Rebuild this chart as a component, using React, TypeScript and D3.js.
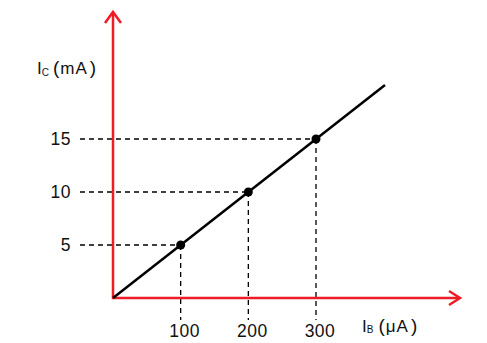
import React from "react";
import * as d3 from "d3";

const ibValues = [100, 200, 300];
const icValues = [5, 10, 15];
const xTicks = ["100", "200", "300"];
const yTicks = ["5", "10", "15"];
const lineEnd = [402, 20.1];

const W = 487;
const H = 343;

export default function App() {
  const x = d3.scaleLinear().domain([0, 300]).range([113, 316]);
  const y = d3.scaleLinear().domain([0, 15]).range([298, 139]);
  const x0 = x(0);
  const y0 = y(0);
  const red = "#ee1c24";
  const font = "'Liberation Sans', Arial, sans-serif";
  const line = d3.line<[number, number]>().x((d) => x(d[0])).y((d) => y(d[1]));
  const pts: [number, number][] = [[0, 0], [lineEnd[0], lineEnd[1]]];

  return (
    <svg width={W} height={H} style={{ position: "absolute", left: 0, top: 0, background: "#fff" }}>
      {/* dashed guides */}
      {ibValues.map((v, i) => (
        <g key={"g" + i}>
          <line x1={80} x2={x(v)} y1={y(icValues[i])} y2={y(icValues[i])} stroke="#000" strokeWidth={1.3} strokeDasharray="5,4" />
          <line x1={x(v)} x2={x(v)} y1={y(icValues[i])} y2={320} stroke="#000" strokeWidth={1.3} strokeDasharray="5,4" />
        </g>
      ))}
      {/* axes */}
      <line x1={x0} x2={x0} y1={y0 + 1} y2={12} stroke={red} strokeWidth={2.5} />
      <polyline points={`${x0 - 8},${23} ${x0},${12} ${x0 + 8},${23}`} fill="none" stroke={red} strokeWidth={2.5} />
      <line x1={x0 - 1} x2={460} y1={y0} y2={y0} stroke={red} strokeWidth={2.5} />
      <polyline points={`${449},${y0 - 7} ${460},${y0} ${449},${y0 + 7}`} fill="none" stroke={red} strokeWidth={2.5} />
      {/* main line */}
      <path d={line(pts) || ""} fill="none" stroke="#000" strokeWidth={2.5} />
      {ibValues.map((v, i) => (
        <circle key={"c" + i} cx={x(v)} cy={y(icValues[i])} r={4.5} fill="#000" />
      ))}
      {/* tick labels */}
      {yTicks.map((t, i) => (
        <text key={"yt" + i} x={71} y={y(icValues[i])} dy="0.36em" textAnchor="end" fontFamily={font} fontSize={17.5} letterSpacing={0.5} fill="#111">
          {t}
        </text>
      ))}
      {xTicks.map((t, i) => (
        <text key={"xt" + i} x={x(ibValues[i]) + 4} y={337} textAnchor="middle" fontFamily={font} fontSize={17.5} letterSpacing={0.5} fill="#111">
          {t}
        </text>
      ))}
      {/* axis titles */}
      <text x={37} y={74} fontFamily={font} fontSize={17} fill="#111">
        <tspan>I</tspan>
        <tspan fontSize={10} dy={2}>C</tspan>
        <tspan dy={-2} dx={4} fontSize={19}>(</tspan>
        <tspan dx={1} letterSpacing={1}>mA</tspan>
        <tspan dx={2} fontSize={19}>)</tspan>
      </text>
      <text x={362} y={332} fontFamily={font} fontSize={17} fill="#111">
        <tspan>I</tspan>
        <tspan fontSize={10} dy={1}>B</tspan>
        <tspan dy={-1} dx={5} fontSize={19}>(</tspan>
        <tspan dx={1} letterSpacing={1}>μA</tspan>
        <tspan dx={2} fontSize={19}>)</tspan>
      </text>
    </svg>
  );
}
